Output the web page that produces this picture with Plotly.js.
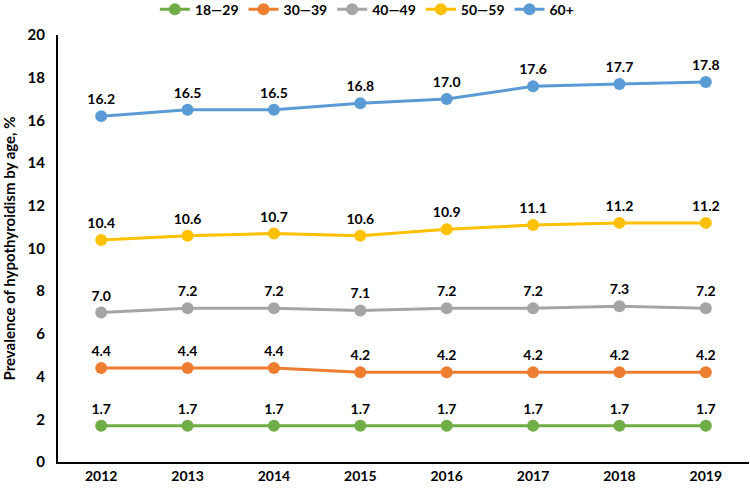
<!DOCTYPE html>
<html><head><meta charset="utf-8">
<script src="https://cdn.plot.ly/plotly-3.0.1.min.js"></script>
<style>html,body{margin:0;padding:0;background:#fff}#chart{width:750px;height:489px}</style>
</head><body><div id="chart"></div>
<script>
const years = [2012, 2013, 2014, 2015, 2016, 2017, 2018, 2019];
const seriesNames = ["18—29", "30—39", "40—49", "50—59", "60+"];
const age18_29 = [1.7, 1.7, 1.7, 1.7, 1.7, 1.7, 1.7, 1.7];
const age30_39 = [4.4, 4.4, 4.4, 4.2, 4.2, 4.2, 4.2, 4.2];
const age40_49 = [7.0, 7.2, 7.2, 7.1, 7.2, 7.2, 7.3, 7.2];
const age50_59 = [10.4, 10.6, 10.7, 10.6, 10.9, 11.1, 11.2, 11.2];
const age60plus = [16.2, 16.5, 16.5, 16.8, 17.0, 17.6, 17.7, 17.8];
const colors = ["#70ad47", "#ed7d31", "#a5a5a5", "#ffc000", "#5b9bd5"];
const allSeries = [age18_29, age30_39, age40_49, age50_59, age60plus];
const FONT = "Lato, 'Open Sans', sans-serif";

const traces = allSeries.map((vals, i) => ({
  x: years, y: vals, name: seriesNames[i], type: "scatter", mode: "lines+markers+text",
  line: {color: colors[i], width: 3},
  marker: {color: colors[i], size: 12},
  text: vals.map(v => v.toFixed(1)), textposition: "top center",
  textfont: {family: FONT, size: 14, color: "#000", weight: "bold"},
  cliponaxis: false, hoverinfo: "none"
}));

Plotly.newPlot("chart", traces, {
  width: 750, height: 489,
  margin: {l: 58, r: 1, t: 35, b: 27},
  paper_bgcolor: "#fff", plot_bgcolor: "#fff",
  font: {family: FONT, size: 14, color: "#000", weight: "bold"},
  showlegend: true,
  legend: {orientation: "h", xref: "paper", yref: "container", x: 0.447, xanchor: "center",
    y: 0.9805, yanchor: "middle",
    font: {family: FONT, size: 14, color: "#000", weight: "bold"}, tracegroupgap: 0},
  xaxis: {range: [2011.5, 2019.5], tickvals: years, ticktext: years.map(String), automargin: false,
    showgrid: false, zeroline: false, showline: true, linecolor: "#000", linewidth: 2,
    ticks: "", tickfont: {family: FONT, size: 14, color: "#000", weight: "bold"}, fixedrange: true},
  yaxis: {range: [0, 20], dtick: 2, showgrid: false, zeroline: false, showline: true, automargin: false,
    linecolor: "#000", linewidth: 2, ticks: "", ticklabelstandoff: 8,
    tickfont: {family: FONT, size: 15, color: "#000", weight: "bold"},
    title: {text: "Prevalence of hypothyroidism by age, %", standoff: 8,
      font: {family: FONT, size: 15, color: "#000", weight: "bold"}}, fixedrange: true}
}, {displayModeBar: false, staticPlot: true});
</script></body></html>
